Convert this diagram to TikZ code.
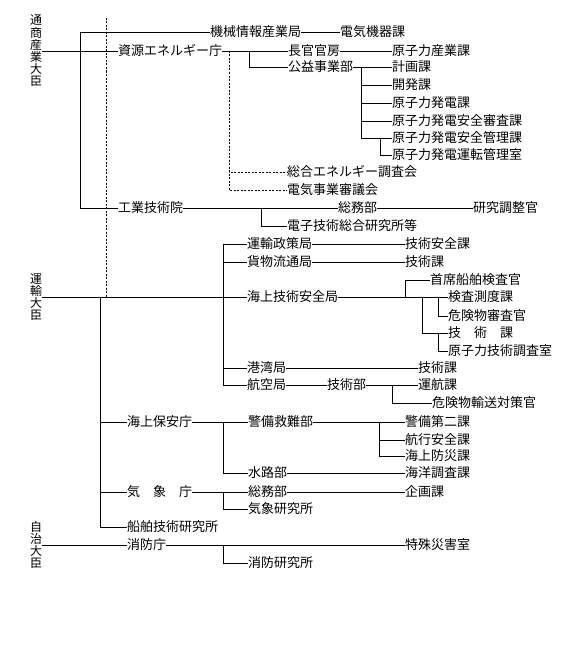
\documentclass[tikz,border=0pt]{standalone}
\usepackage{fontspec}
\setmainfont{Noto Sans CJK JP}
\tikzset{
  lbl/.style={anchor=west, inner sep=0pt, font=\fontsize{13}{13}\selectfont, text height=11.4pt, text depth=1.6pt},
  vt/.style={inner sep=0pt, align=center, font=\fontsize{12}{12.2}\selectfont},
  ln/.style={line width=0.7pt},
  dl/.style={line width=0.7pt, dash pattern=on 2pt off 1.5pt},
}
\begin{document}
\begin{tikzpicture}[x=1pt,y=-1pt]
\useasboundingbox[fill=white] (0,0) rectangle (571,669);
% ministers
\node[vt] (m1) at (36,51) {通\\商\\産\\業\\大\\臣};
\node[vt] (m2) at (36,297) {運\\輸\\大\\臣};
\node[vt] (m3) at (36,545) {自\\治\\大\\臣};
% MITI
\node[lbl] (k1) at (210,32) {機械情報産業局};
\node[lbl] (k2) at (340,32) {電気機器課};
\node[lbl] (s0) at (118,51) {資源エネルギー庁};
\node[lbl] (s1) at (288,51) {長官官房};
\node[lbl] (s2) at (392,51) {原子力産業課};
\node[lbl] (s3) at (288,67) {公益事業部};
\node[lbl] (s4) at (392,67) {計画課};
\node[lbl] (s5) at (392,85) {開発課};
\node[lbl] (s6) at (392,103) {原子力発電課};
\node[lbl] (s7) at (392,121) {原子力発電安全審査課};
\node[lbl] (s8) at (392,138) {原子力発電安全管理課};
\node[lbl] (s9) at (392,155) {原子力発電運転管理室};
\node[lbl] (s10) at (287,172) {総合エネルギー調査会};
\node[lbl] (s11) at (287,190) {電気事業審議会};
\node[lbl] (g0) at (118,208) {工業技術院};
\node[lbl] (g1) at (338,208) {総務部};
\node[lbl] (g2) at (473,208) {研究調整官};
\node[lbl] (g3) at (287,226) {電子技術総合研究所等};
% Transport
\node[lbl] (u1) at (247,244) {運輸政策局};
\node[lbl] (u2) at (405,244) {技術安全課};
\node[lbl] (u3) at (247,262) {貨物流通局};
\node[lbl] (u4) at (405,262) {技術課};
\node[lbl] (u5) at (247,297) {海上技術安全局};
\node[lbl] (u6) at (430,280) {首席船舶検査官};
\node[lbl] (u7) at (448,297) {検査測度課};
\node[lbl] (u8) at (448,316) {危険物審査官};
\node[lbl] (u9) at (448,333) {技　術　課};
\node[lbl] (u10) at (448,351) {原子力技術調査室};
\node[lbl] (u11) at (247,368) {港湾局};
\node[lbl] (u12) at (418,368) {技術課};
\node[lbl] (u13) at (247,385) {航空局};
\node[lbl] (u14) at (327,385) {技術部};
\node[lbl] (u15) at (418,385) {運航課};
\node[lbl] (u16) at (432,403) {危険物輸送対策官};
\node[lbl] (h0) at (127,422) {海上保安庁};
\node[lbl] (h1) at (248,422) {警備救難部};
\node[lbl] (h2) at (405,422) {警備第二課};
\node[lbl] (h3) at (405,440) {航行安全課};
\node[lbl] (h4) at (405,456) {海上防災課};
\node[lbl] (h5) at (248,473) {水路部};
\node[lbl] (h6) at (405,473) {海洋調査課};
\node[lbl] (q0) at (127,492) {気　象　庁};
\node[lbl] (q1) at (248,492) {総務部};
\node[lbl] (q2) at (405,492) {企画課};
\node[lbl] (q3) at (248,509) {気象研究所};
\node[lbl] (f0) at (127,527) {船舶技術研究所};
% Home affairs
\node[lbl] (z0) at (127,545) {消防庁};
\node[lbl] (z1) at (405,545) {特殊災害室};
\node[lbl] (z2) at (248,563) {消防研究所};
% junction coordinates
\coordinate (c80a) at (80,32);
\coordinate (c80b) at (80,208);
\coordinate (dA) at (106,18);
\coordinate (dB) at (106,297);
\coordinate (jS) at (249,51);
\coordinate (jK) at (361,67);
\coordinate (jK2) at (380,138);
\coordinate (jD) at (229,51);
\coordinate (jG) at (261,208);
\coordinate (jT) at (223,297);
\coordinate (jM) at (100,297);
\coordinate (jU1) at (405,297);
\coordinate (jU2) at (438,297);
\coordinate (jU3) at (422,297);
\coordinate (jU4) at (438,333);
\coordinate (jA) at (392,385);
\coordinate (jH) at (223,422);
\coordinate (jH2) at (379,422);
\coordinate (jQ) at (223,492);
\coordinate (jZ) at (223,545);
% MITI lines
\draw[ln] (m1.east) -- (s0.west);
\draw[ln] (k1.west) -- (c80a) -- (c80b) -- (g0.west);
\draw[ln] (k1.east) -- (k2.west);
\draw[dl] (dA) -- (dB);
\draw[ln] (s0.east) -- (s1.west);
\draw[ln] (s1.east) -- (s2.west);
\draw[ln] (jS) |- (s3.west);
\draw[ln] (s3.east) -- (s4.west);
\draw[ln] (jK) |- (s5.west);
\draw[ln] (jK) |- (s6.west);
\draw[ln] (jK) |- (s7.west);
\draw[ln] (jK) |- (s8.west);
\draw[ln] (jK2) |- (s9.west);
\draw[dl] (jD) |- (s10.west);
\draw[dl] (jD) |- (s11.west);
\draw[ln] (g0.east) -- (g1.west);
\draw[ln] (g1.east) -- (g2.west);
\draw[ln] (jG) |- (g3.west);
% Transport lines
\draw[ln] (m2.east) -- (u5.west);
\draw[ln] (jT) |- (u1.west);
\draw[ln] (jT) |- (u3.west);
\draw[ln] (jT) |- (u11.west);
\draw[ln] (jT) |- (u13.west);
\draw[ln] (jM) |- (h0.west);
\draw[ln] (jM) |- (q0.west);
\draw[ln] (jM) |- (f0.west);
\draw[ln] (u1.east) -- (u2.west);
\draw[ln] (u3.east) -- (u4.west);
\draw[ln] (u5.east) -- (u7.west);
\draw[ln] (jU1) |- (u6.west);
\draw[ln] (jU2) |- (u8.west);
\draw[ln] (jU3) |- (u9.west);
\draw[ln] (jU4) |- (u10.west);
\draw[ln] (u11.east) -- (u12.west);
\draw[ln] (u13.east) -- (u14.west);
\draw[ln] (u14.east) -- (u15.west);
\draw[ln] (jA) |- (u16.west);
\draw[ln] (h0.east) -- (h1.west);
\draw[ln] (h1.east) -- (h2.west);
\draw[ln] (jH) |- (h5.west);
\draw[ln] (jH2) |- (h3.west);
\draw[ln] (jH2) |- (h4.west);
\draw[ln] (h5.east) -- (h6.west);
\draw[ln] (q0.east) -- (q1.west);
\draw[ln] (q1.east) -- (q2.west);
\draw[ln] (jQ) |- (q3.west);
% Home affairs lines
\draw[ln] (m3.east) -- (z0.west);
\draw[ln] (z0.east) -- (z1.west);
\draw[ln] (jZ) |- (z2.west);
\end{tikzpicture}
\end{document}
